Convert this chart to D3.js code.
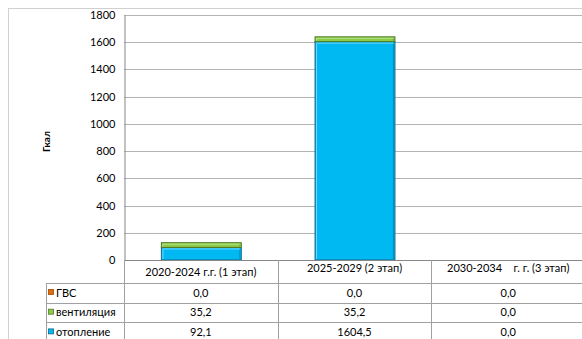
<!DOCTYPE html>
<html>
<head>
<meta charset="utf-8">
<script src="https://cdn.jsdelivr.net/npm/d3@7"></script>
<style>
  html, body { margin: 0; padding: 0; background: #fff; }
  svg { display: block; font-family: Lato, "Open Sans", sans-serif; }
</style>
</head>
<body>
<script>
const categories = ["2020-2024 г.г. (1 этап)", "2025-2029 (2 этап)", "2030-2034    г. г. (3 этап)"];
const seriesNames = ["ГВС", "вентиляция", "отопление"];
const gvs = [0.0, 0.0, 0.0];
const ventilation = [35.2, 35.2, 0.0];
const heating = [92.1, 1604.5, 0.0];
const yTicks = [0, 200, 400, 600, 800, 1000, 1200, 1400, 1600, 1800];

const width = 582;
const height = 339;
const colors = {
    "ГВС": { fill: "#E46C0A", dark: "#984807", light: "#F9A25B" },
    "вентиляция": { fill: "#8CCB48", dark: "#4F7A28", light: "#B5E286" },
    "отопление": { fill: "#00B8F2", dark: "#0E6A8C", light: "#6FD6FF" }
};

const rows = categories.map((c, i) => ({
    cat: c,
    "отопление": heating[i],
    "вентиляция": ventilation[i],
    "ГВС": gvs[i]
}));

const svg = d3.select("body").append("svg")
    .attr("width", width)
    .attr("height", height);

// outer frame
svg.append("rect")
    .attr("x", 8.5).attr("y", 8.5)
    .attr("width", 600).attr("height", 400)
    .attr("fill", "none")
    .attr("stroke", "#d0d0d0");

const plotLeft = 124, plotRight = 585, plotTop = 15, plotBottom = 260;

const x = d3.scaleBand()
    .domain(categories)
    .range([plotLeft, plotRight])
    .padding(0);

const y = d3.scaleLinear()
    .domain([0, 1800])
    .range([plotBottom, plotTop]);

// grid
svg.append("g")
    .selectAll("line")
    .data(yTicks.filter(d => d > 0))
    .join("line")
    .attr("x1", plotLeft).attr("x2", plotRight)
    .attr("y1", d => Math.round(y(d)) + 0.5)
    .attr("y2", d => Math.round(y(d)) + 0.5)
    .attr("stroke", "#b4b4b4");

// y axis
const yAxis = svg.append("g")
    .attr("transform", `translate(${plotLeft + 0.5},0)`)
    .call(d3.axisLeft(y).tickValues(yTicks).tickFormat(d3.format("d")).tickSize(0).tickPadding(9));
yAxis.select(".domain").attr("stroke", "#868686");
yAxis.selectAll("text")
    .attr("font-family", "Lato, sans-serif")
    .attr("font-size", 11)
    .attr("fill", "#000");

svg.append("text")
    .attr("transform", `translate(50,${(plotTop + plotBottom) / 2 + 4}) rotate(-90)`)
    .attr("text-anchor", "middle")
    .attr("font-size", 10)
    .attr("font-weight", "bold")
    .text("Гкал");

// bars
const stack = d3.stack().keys(["отопление", "вентиляция", "ГВС"]);
const stacked = stack(rows);
const barW = x.bandwidth() * 0.52;
const bx = s => x(s.d.data.cat) + (x.bandwidth() - barW) / 2;

const layers = svg.append("g")
    .selectAll("g")
    .data(stacked)
    .join("g");

const segs = layers.selectAll("g")
    .data(l => l.map(d => ({ key: l.key, d })))
    .join("g")
    .filter(s => s.d[1] - s.d[0] > 0);

segs.append("rect")
    .attr("x", s => bx(s) + 0.5)
    .attr("y", s => y(s.d[1]))
    .attr("width", barW)
    .attr("height", s => y(s.d[0]) - y(s.d[1]))
    .attr("fill", s => colors[s.key].fill)
    .attr("stroke", s => colors[s.key].dark)
    .attr("stroke-width", 1);

// bevel highlight (top + left)
segs.append("path")
    .attr("d", s => {
        const x0 = bx(s) + 2;
        const y0 = y(s.d[1]) + 1.5;
        const x1 = x0 + barW - 3;
        const y1 = y(s.d[0]) - 1;
        return `M${x0},${y1}V${y0}H${x1}`;
    })
    .attr("fill", "none")
    .attr("stroke", s => colors[s.key].light)
    .attr("stroke-width", 1);

// bevel shade (right)
segs.append("path")
    .attr("d", s => {
        const x1 = bx(s) + barW - 1;
        const y0 = y(s.d[1]) + 2;
        const y1 = y(s.d[0]) - 1;
        return `M${x1},${y0}V${y1}`;
    })
    .attr("fill", "none")
    .attr("stroke", s => colors[s.key].dark)
    .attr("stroke-opacity", 0.5)
    .attr("stroke-width", 1);

// data table
const headerBottom = 283;
const rowH = 19.7;
const labelLeft = 46;
const tableRows = ["ГВС", "вентиляция", "отопление"];
const tableData = { "ГВС": gvs, "вентиляция": ventilation, "отопление": heating };
const fmt = v => d3.format(".1f")(v).replace(".", ",");
const lineColor = "#a0a0a0";

const table = svg.append("g");

// axis baseline
table.append("line")
    .attr("x1", plotLeft).attr("x2", plotRight)
    .attr("y1", plotBottom + 0.5).attr("y2", plotBottom + 0.5)
    .attr("stroke", "#868686");

// column dividers
table.selectAll("line.col")
    .data(categories)
    .join("line")
    .attr("class", "col")
    .attr("x1", d => Math.round(x(d) + x.bandwidth()) + 0.5)
    .attr("x2", d => Math.round(x(d) + x.bandwidth()) + 0.5)
    .attr("y1", plotBottom).attr("y2", height)
    .attr("stroke", lineColor);

table.append("line")
    .attr("x1", plotLeft + 0.5).attr("x2", plotLeft + 0.5)
    .attr("y1", plotBottom).attr("y2", height)
    .attr("stroke", lineColor);

table.append("line")
    .attr("x1", labelLeft + 0.5).attr("x2", labelLeft + 0.5)
    .attr("y1", headerBottom).attr("y2", height)
    .attr("stroke", lineColor);

// row lines
table.selectAll("line.row")
    .data(d3.range(tableRows.length + 1))
    .join("line")
    .attr("class", "row")
    .attr("x1", labelLeft).attr("x2", plotRight)
    .attr("y1", i => Math.round(headerBottom + i * rowH) + 0.5)
    .attr("y2", i => Math.round(headerBottom + i * rowH) + 0.5)
    .attr("stroke", lineColor);

// header texts
const headerY = [276, 272, 272];
table.selectAll("text.head")
    .data(categories)
    .join("text")
    .attr("class", "head")
    .attr("x", d => x(d) + x.bandwidth() / 2)
    .attr("y", (d, i) => headerY[i])
    .attr("text-anchor", "middle")
    .attr("font-size", 11)
    .style("white-space", "pre")
    .text(d => d);

// row labels with legend keys
const rowG = table.selectAll("g.r")
    .data(tableRows)
    .join("g")
    .attr("class", "r")
    .attr("transform", (d, i) => `translate(0,${headerBottom + i * rowH})`);

rowG.append("rect")
    .attr("x", 48.5).attr("y", 6.5)
    .attr("width", 5).attr("height", 5)
    .attr("fill", d => colors[d].fill)
    .attr("stroke", d => colors[d].dark)
    .attr("stroke-width", 0.8);

rowG.append("text")
    .attr("x", 56)
    .attr("y", 13.5)
    .attr("font-size", 11)
    .text(d => d);

rowG.selectAll("text.v")
    .data(d => categories.map((c, i) => ({ c, v: tableData[d][i] })))
    .join("text")
    .attr("class", "v")
    .attr("x", e => x(e.c) + x.bandwidth() / 2)
    .attr("y", 13.5)
    .attr("text-anchor", "middle")
    .attr("font-size", 11)
    .text(e => fmt(e.v));
</script>
</body>
</html>
